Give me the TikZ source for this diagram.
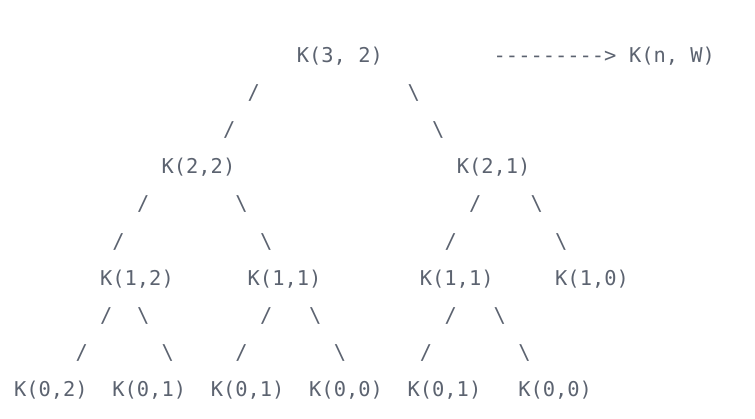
\documentclass[tikz,border=0pt]{standalone}
\usepackage{fontspec}
\newfontfamily\mono{DejaVu Sans Mono}
\definecolor{inkgray}{RGB}{92,99,112}
\tikzset{
  txt/.style={anchor=base west, inner sep=0pt, outer sep=0pt, font=\mono\fontsize{20.4}{24}\selectfont, text=inkgray},
}
\newcommand{\bs}{\textbackslash}
\begin{document}
\begin{tikzpicture}[x=1pt,y=-1pt]
\useasboundingbox (0,0) rectangle (755,418);
% row 0
\node[txt] (r)  at ({14+12.3*23},{62+37.2*0}) {K(3, 2)};
\node[txt] (ar) at ({14+12.3*39},{62+37.2*0}) {-{}-{}-{}-{}-{}-{}-{}-{}-{}>};
\node[txt] (nw) at ({14+12.3*50},{62+37.2*0}) {K(n, W)};
% row 1
\node[txt] (a1) at ({14+12.3*19},{62+37.2*1}) {/};
\node[txt] (b1) at ({14+12.3*32},{62+37.2*1}) {\bs};
% row 2
\node[txt] (a2) at ({14+12.3*17},{62+37.2*2}) {/};
\node[txt] (b2) at ({14+12.3*34},{62+37.2*2}) {\bs};
% row 3
\node[txt] (k22) at ({14+12.3*12},{62+37.2*3}) {K(2,2)};
\node[txt] (k21) at ({14+12.3*36},{62+37.2*3}) {K(2,1)};
% row 4
\node[txt] (a4) at ({14+12.3*10},{62+37.2*4}) {/};
\node[txt] (b4) at ({14+12.3*18},{62+37.2*4}) {\bs};
\node[txt] (c4) at ({14+12.3*37},{62+37.2*4}) {/};
\node[txt] (d4) at ({14+12.3*42},{62+37.2*4}) {\bs};
% row 5
\node[txt] (a5) at ({14+12.3*8},{62+37.2*5}) {/};
\node[txt] (b5) at ({14+12.3*20},{62+37.2*5}) {\bs};
\node[txt] (c5) at ({14+12.3*35},{62+37.2*5}) {/};
\node[txt] (d5) at ({14+12.3*44},{62+37.2*5}) {\bs};
% row 6
\node[txt] (k12)  at ({14+12.3*7},{62+37.2*6}) {K(1,2)};
\node[txt] (k11a) at ({14+12.3*19},{62+37.2*6}) {K(1,1)};
\node[txt] (k11b) at ({14+12.3*33},{62+37.2*6}) {K(1,1)};
\node[txt] (k10)  at ({14+12.3*44},{62+37.2*6}) {K(1,0)};
% row 7
\node[txt] (a7) at ({14+12.3*7},{62+37.2*7}) {/};
\node[txt] (b7) at ({14+12.3*10},{62+37.2*7}) {\bs};
\node[txt] (c7) at ({14+12.3*20},{62+37.2*7}) {/};
\node[txt] (d7) at ({14+12.3*24},{62+37.2*7}) {\bs};
\node[txt] (e7) at ({14+12.3*35},{62+37.2*7}) {/};
\node[txt] (f7) at ({14+12.3*39},{62+37.2*7}) {\bs};
% row 8
\node[txt] (a8) at ({14+12.3*5},{62+37.2*8}) {/};
\node[txt] (b8) at ({14+12.3*12},{62+37.2*8}) {\bs};
\node[txt] (c8) at ({14+12.3*18},{62+37.2*8}) {/};
\node[txt] (d8) at ({14+12.3*26},{62+37.2*8}) {\bs};
\node[txt] (e8) at ({14+12.3*33},{62+37.2*8}) {/};
\node[txt] (f8) at ({14+12.3*41},{62+37.2*8}) {\bs};
% row 9
\node[txt] (l1) at ({14+12.3*0},{62+37.2*9}) {K(0,2)};
\node[txt] (l2) at ({14+12.3*8},{62+37.2*9}) {K(0,1)};
\node[txt] (l3) at ({14+12.3*16},{62+37.2*9}) {K(0,1)};
\node[txt] (l4) at ({14+12.3*24},{62+37.2*9}) {K(0,0)};
\node[txt] (l5) at ({14+12.3*32},{62+37.2*9}) {K(0,1)};
\node[txt] (l6) at ({14+12.3*41},{62+37.2*9}) {K(0,0)};
\end{tikzpicture}
\end{document}
